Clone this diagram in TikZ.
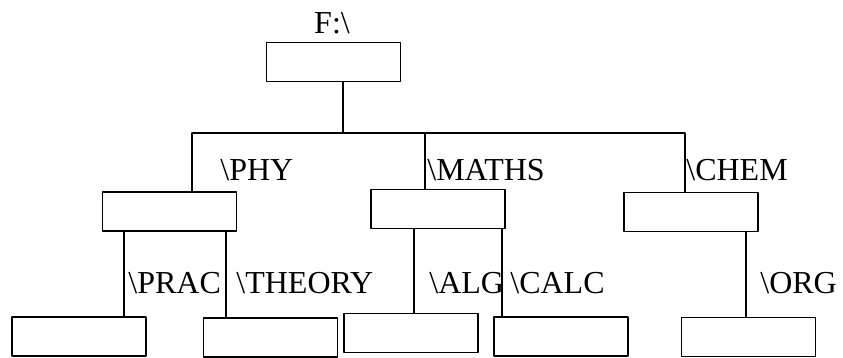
\documentclass[tikz,border=0pt]{standalone}
\usepackage{fontspec}
\setmainfont{Liberation Serif}
\begin{document}
\begin{tikzpicture}[x=0.5pt,y=0.5pt,line join=round,line cap=round,
    font=\fontsize{16}{19}\selectfont,
    cartella/.style={draw,line width=0.7pt,minimum width=67pt,minimum height=19.5pt,inner sep=0pt},
    arco/.style={line width=0.7pt},
    etich/.style={inner sep=0pt,anchor=west}]
  \useasboundingbox (0,0) rectangle (843,358);

  % ======================= livello 0: la radice F:\ =======================
  \node[cartella] (rad) at (333.5,296) {};
  \node[inner sep=0pt] (lrad) at (332,335) {F:\textbackslash};

  % ======================= livello 1: PHY, MATHS, CHEM =====================
  \node[cartella] (phy)   at (169.5,146.5) {};
  \node[cartella] (maths) at (438.0,149.0) {};
  \node[cartella] (chem)  at (691.0,146.0) {};

  \coordinate (nodo) at (343,225);   % diramazione sotto la radice
  \coordinate (sx)   at (192,225);   % estremo sinistro della sbarra
  \coordinate (cx)   at (425,225);   % innesto centrale
  \coordinate (dx)   at (685,225);   % estremo destro della sbarra

  \draw[arco] (rad.south -| nodo) -- (nodo)
              (sx) -- (dx)
              (sx) -- (sx |- phy.north)
              (cx) -- (cx |- maths.north)
              (dx) -- (dx |- chem.north);

  \node[etich] (lphy)   at (220,188) {\textbackslash PHY};
  \node[etich] (lmaths) at (427,188) {\textbackslash MATHS};
  \node[etich] (lchem)  at (686,188) {\textbackslash CHEM};

  % ======================= livello 2: le sottocartelle =====================
  \node[cartella] (prac)   at ( 79.0,21.5) {};
  \node[cartella] (theory) at (270.5,20.5) {};
  \node[cartella] (alg)    at (411.0,25.0) {};
  \node[cartella] (calc)   at (561.0,21.5) {};
  \node[cartella] (org)    at (748.5,21.0) {};

  \coordinate (xprac)   at (124,0);
  \coordinate (xtheory) at (226,0);
  \coordinate (xalg)    at (414,0);
  \coordinate (xcalc)   at (502,0);
  \coordinate (xorg)    at (746,0);

  \draw[arco] (phy.south -| xprac)     -- (prac.north -| xprac)
              (phy.south -| xtheory)   -- (theory.north -| xtheory)
              (maths.south -| xalg)    -- (alg.north -| xalg)
              (maths.south -| xcalc)   -- (calc.north -| xcalc)
              (chem.south -| xorg)     -- (org.north -| xorg);

  \node[etich] (lprac)   at (128,75) {\textbackslash PRAC};
  \node[etich] (ltheory) at (236,75) {\textbackslash THEORY};
  \node[etich] (lalg)    at (429,75) {\textbackslash ALG};
  \node[etich] (lcalc)   at (510,75) {\textbackslash CALC};
  \node[etich] (lorg)    at (760,75) {\textbackslash ORG};

\end{tikzpicture}
\end{document}
